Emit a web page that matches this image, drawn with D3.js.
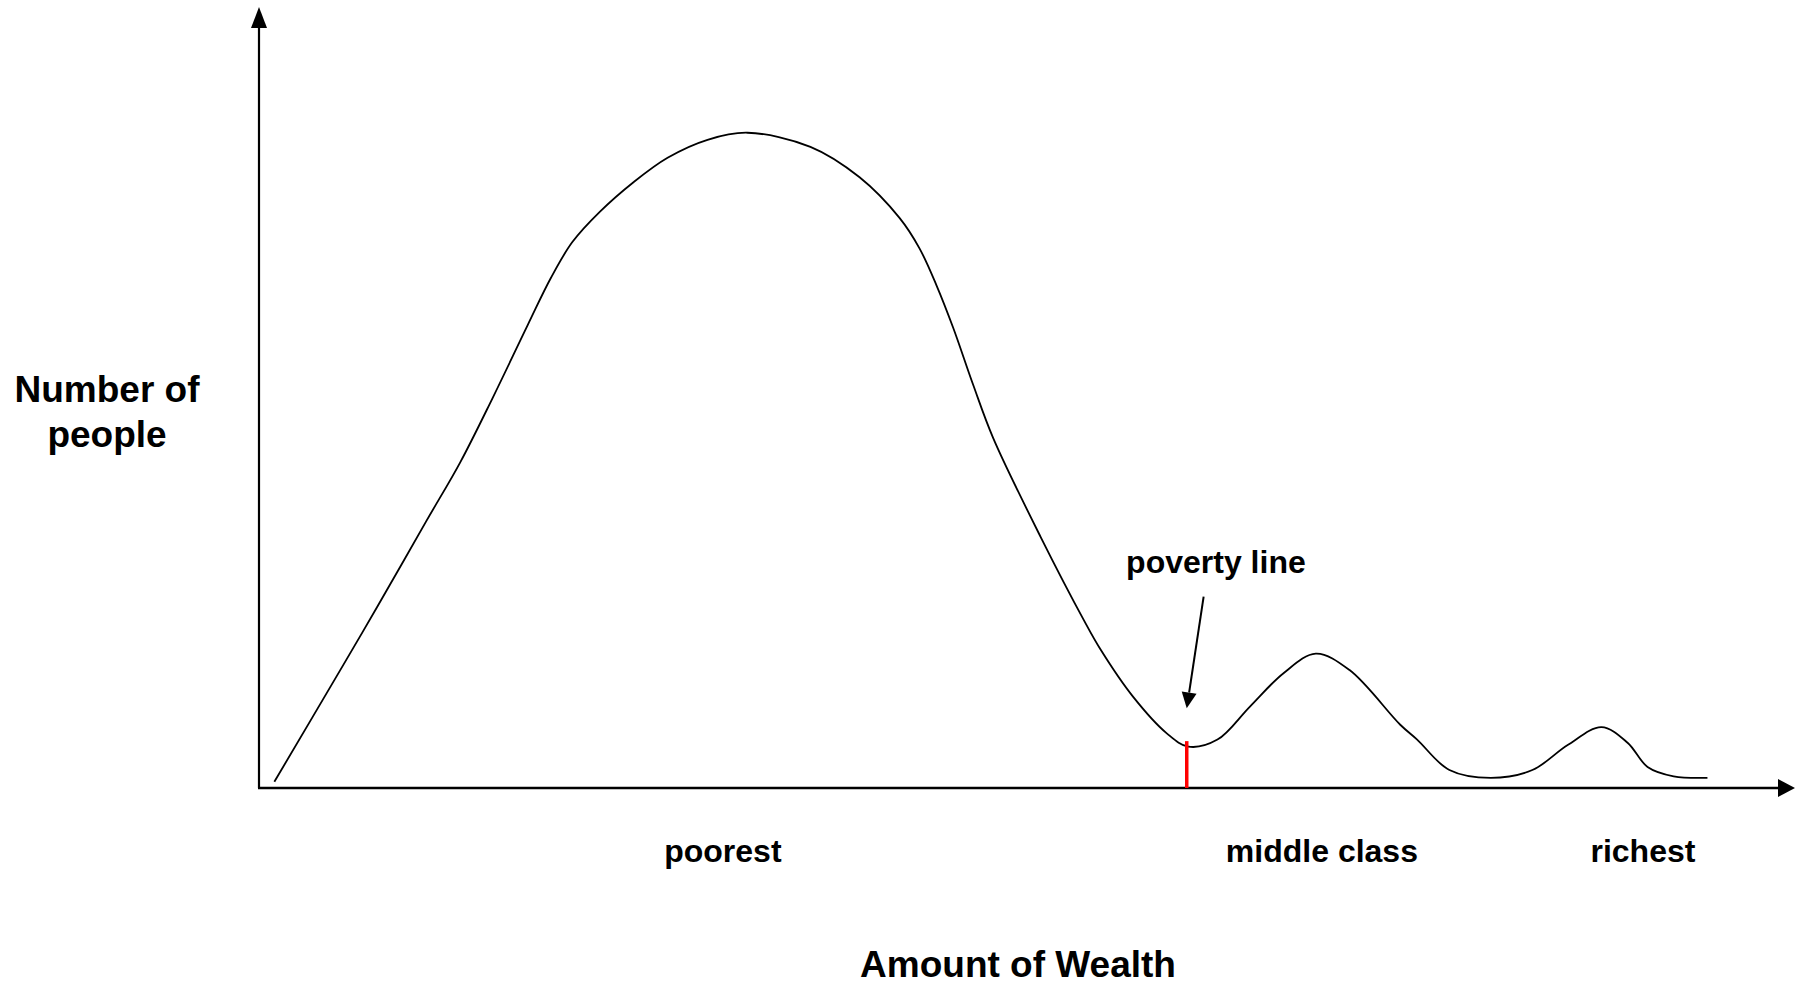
<!DOCTYPE html>
<html>
<head>
<meta charset="utf-8">
<script src="https://cdn.jsdelivr.net/npm/d3@7"></script>
<style>
	body { margin: 0; background: #fff; }
	text { font-family: "Liberation Sans", Arial, sans-serif; font-weight: bold; fill: #000; }
</style>
</head>
<body>
<div id="root"></div>
<script>
// wealth (x) and number of people (y), both in arbitrary 0..100 units
const wealth = [1.0, 5.5, 7.7, 10.9, 13.1, 15.2, 17.5, 19.0, 20.4, 22.2, 24.4, 26.6, 29.2, 31.8, 35.9, 39.1, 41.7, 43.0, 44.1, 45.2, 46.5, 47.8, 50.9, 53.7, 54.8, 56.9, 59.1, 60.5, 62.4, 64.5, 66.7, 68.8, 71.0, 74.3, 75.4, 77.5, 80.2, 82.9, 85.2, 87.4, 89.1, 90.4, 92.1, 94.3]
const people = [0.8, 15.8, 23.2, 34.2, 41.7, 49.9, 59.3, 65.3, 69.9, 73.8, 77.6, 80.7, 83.0, 83.9, 82.1, 78.2, 73.0, 69.1, 64.4, 58.9, 51.6, 44.8, 32.1, 21.5, 17.7, 11.7, 7.0, 5.3, 6.2, 10.4, 14.7, 17.2, 15.1, 8.1, 6.2, 2.3, 1.3, 2.3, 5.5, 7.8, 5.8, 2.7, 1.5, 1.3]

const groupLabels = ['poorest', 'middle class', 'richest']
const groupPositions = [30.2, 69.2, 90.1]

const povertyLine = 60.4,
	povertyMarkTop = 6.0

const C = {
	width: 1805,
	height: 984,
	left: 259,
	right: 1795,
	top: 7,
	bottom: 788,
}

const svg = d3.select('#root').append('svg')
	.attr('width', C.width)
	.attr('height', C.height)

const xScale = d3.scaleLinear()
	.domain([0, 100])
	.range([C.left, C.right])

const yScale = d3.scaleLinear()
	.domain([0, 100])
	.range([C.bottom, C.top])

// -- axes with arrow heads --
svg.append('line')
	.attr('x1', xScale(0)).attr('y1', yScale(0))
	.attr('x2', xScale(0)).attr('y2', yScale(100) + 18)
	.attr('stroke', '#000')
	.attr('stroke-width', 2.2)

svg.append('path')
	.attr('d', `M${xScale(0)},${yScale(100)} l-8,21 l16,0 z`)
	.attr('fill', '#000')

svg.append('line')
	.attr('x1', xScale(0) - 1).attr('y1', yScale(0))
	.attr('x2', xScale(100) - 14).attr('y2', yScale(0))
	.attr('stroke', '#000')
	.attr('stroke-width', 2.5)

svg.append('path')
	.attr('d', `M${xScale(100)},${yScale(0)} l-17,-9 l0,18 z`)
	.attr('fill', '#000')

// -- distribution curve --
const points = wealth.map((w, i) => [w, people[i]])

const line = d3.line()
	.x(d => xScale(d[0]))
	.y(d => yScale(d[1]))
	.curve(d3.curveCatmullRom.alpha(0.5))

svg.append('path')
	.datum(points)
	.attr('d', line)
	.attr('fill', 'none')
	.attr('stroke', '#000')
	.attr('stroke-width', 1.8)

// -- poverty line mark --
svg.append('line')
	.attr('x1', xScale(povertyLine)).attr('y1', yScale(0))
	.attr('x2', xScale(povertyLine)).attr('y2', yScale(povertyMarkTop))
	.attr('stroke', '#ff0000')
	.attr('stroke-width', 3.5)

// annotation arrow
const arrowFrom = [61.5, 24.5],
	arrowTo = [povertyLine, 10.2]

const ax0 = xScale(arrowFrom[0]), ay0 = yScale(arrowFrom[1]),
	ax1 = xScale(arrowTo[0]), ay1 = yScale(arrowTo[1]),
	ang = Math.atan2(ay1 - ay0, ax1 - ax0),
	headLen = 16, headHalf = 7.5

const bx = ax1 - headLen * Math.cos(ang),
	by = ay1 - headLen * Math.sin(ang)

svg.append('line')
	.attr('x1', ax0).attr('y1', ay0)
	.attr('x2', bx).attr('y2', by)
	.attr('stroke', '#000')
	.attr('stroke-width', 2)

svg.append('path')
	.attr('d', `M${ax1},${ay1}`
		+ `L${bx + headHalf * Math.sin(ang)},${by - headHalf * Math.cos(ang)}`
		+ `L${bx - headHalf * Math.sin(ang)},${by + headHalf * Math.cos(ang)}Z`)
	.attr('fill', '#000')

svg.append('text')
	.attr('x', xScale(62.3))
	.attr('y', 573)
	.attr('text-anchor', 'middle')
	.attr('font-size', '32px')
	.text('poverty line')

// -- group labels under the axis --
svg.selectAll('.group')
	.data(groupLabels)
	.enter()
	.append('text')
	.attr('class', 'group')
	.attr('x', (d, i) => xScale(groupPositions[i]))
	.attr('y', 862)
	.attr('text-anchor', 'middle')
	.attr('font-size', '32px')
	.text(d => d)

// -- axis titles --
svg.append('text')
	.attr('x', 1018)
	.attr('y', 977)
	.attr('text-anchor', 'middle')
	.attr('font-size', '37px')
	.text('Amount of Wealth')

const yTitle = svg.append('text')
	.attr('text-anchor', 'middle')
	.attr('font-size', '37px')

yTitle.append('tspan')
	.attr('x', 107)
	.attr('y', 402)
	.text('Number of')

yTitle.append('tspan')
	.attr('x', 107)
	.attr('y', 447)
	.text('people')
</script>
</body>
</html>
